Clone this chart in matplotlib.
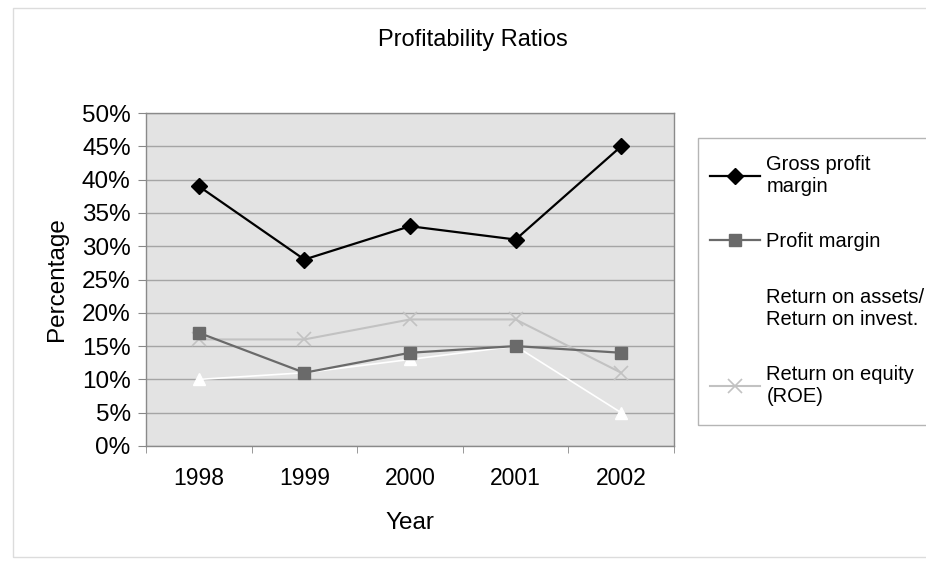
import matplotlib.pyplot as plt
from matplotlib.patches import Rectangle
from matplotlib.ticker import FixedLocator

plt.rcParams['font.family'] = ['Liberation Sans', 'DejaVu Sans']

# data (percent)
years = ['1998', '1999', '2000', '2001', '2002']
gross_margin = [39, 28, 33, 31, 45]
profit_margin = [17, 11, 14, 15, 14]
roa = [10, 11, 13, 15, 5]
roe = [16, 16, 19, 19, 11]

fig = plt.figure(figsize=(9.26, 5.61), dpi=100)
fig.patch.set_facecolor('white')
# faint outer chart border
fig.patches.append(Rectangle((13 / 926, 4 / 561), 1.0, 1 - 12 / 561,
                             transform=fig.transFigure, fill=False,
                             edgecolor='#dcdcdc', linewidth=1.0))
# legend box (runs off the right edge like the original)
fig.patches.append(Rectangle((698 / 926, 1 - 425 / 561), 0.3, 287 / 561,
                             transform=fig.transFigure, fill=False,
                             edgecolor='#b5b5b5', linewidth=1.0))

ax = fig.add_axes([146 / 926, 1 - 446 / 561, 528 / 926, 333 / 561])
ax.set_facecolor('#e3e3e3')

x = range(len(years))
ax.plot(x, gross_margin, color='black', marker='D', markersize=8,
        linewidth=1.6, label='Gross profit\nmargin', zorder=5)
ax.plot(x, profit_margin, color='#6a6a6a', marker='s', markersize=9,
        linewidth=1.6, label='Profit margin', zorder=4)
ax.plot(x, roa, color='white', marker='^', markersize=9,
        linewidth=1.2, label='Return on assets/\nReturn on invest.', zorder=3)
ax.plot(x, roe, color='#c2c2c2', marker='x', markersize=10, markeredgewidth=1.2,
        linewidth=1.5, label='Return on equity\n(ROE)', zorder=3)

ax.set_xlim(-0.5, 4.5)
ax.set_ylim(0, 50)
ax.set_yticks(range(0, 51, 5))
ax.set_yticklabels(['%d%%' % v for v in range(0, 51, 5)])
ax.set_xticks(list(x))
ax.set_xticklabels(years)
ax.xaxis.set_minor_locator(FixedLocator([i - 0.5 for i in range(6)]))
ax.tick_params(axis='x', which='major', length=0, labelsize=16.5, pad=15)
ax.tick_params(axis='x', which='minor', length=5, color='#888888')
ax.tick_params(axis='y', length=6, color='#888888', labelsize=17.5, pad=5)

ax.grid(axis='y', color='#a5a5a5', linewidth=1.0)
ax.set_axisbelow(True)
for s in ax.spines.values():
    s.set_color('#8a8a8a')
    s.set_linewidth(1.0)

fig.text(473 / 926, 1 - 40 / 561, 'Profitability Ratios', fontsize=17,
         ha='center', va='center')
ax.set_xlabel('Year', fontsize=17.5, labelpad=16)
ax.set_ylabel('Percentage', fontsize=17.5, labelpad=10)

fig.legend(loc='upper left', bbox_to_anchor=(710 / 926, 1 - 155 / 561),
           fontsize=14.5, frameon=False, handlelength=2.5,
           handletextpad=0.3, labelspacing=1.8, borderpad=0, borderaxespad=0)

fig.savefig('out.png', dpi=100, facecolor='white')
